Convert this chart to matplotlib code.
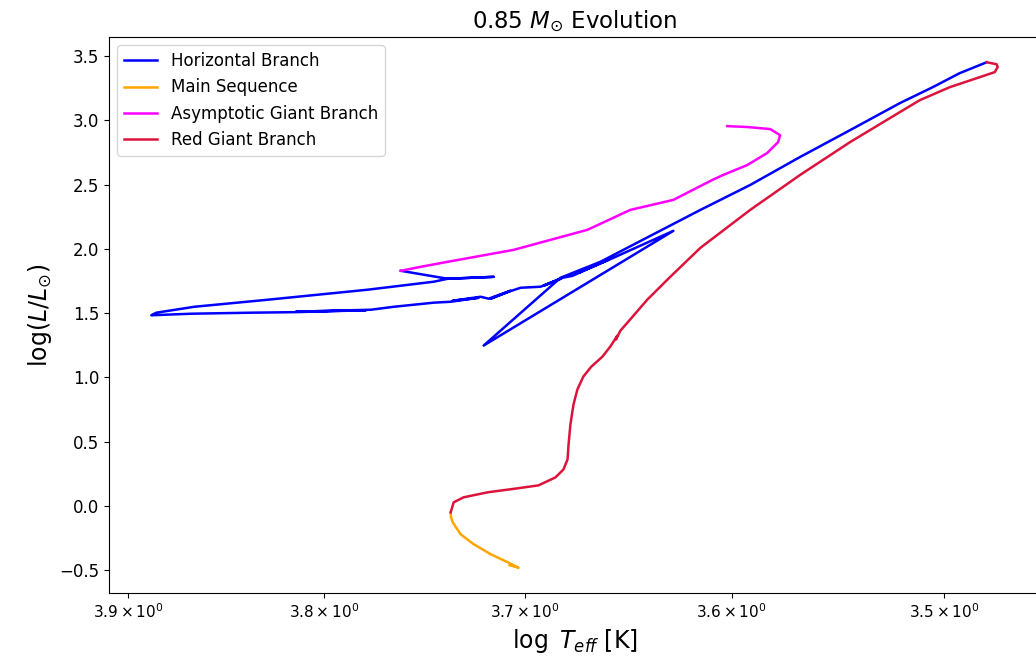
import numpy as np
import matplotlib
matplotlib.use('Agg')
import matplotlib.pyplot as plt

# 0.85 Msun track (x = log Teff, y = log L/Lsun)
ms_teff = [3.7077, 3.7033, 3.7087, 3.7170, 3.7254, 3.7319, 3.7358, 3.7366, 3.7368]
ms_lum = [-0.461, -0.481, -0.438, -0.376, -0.298, -0.220, -0.127, -0.088, -0.050]

rgb_teff = [3.7368, 3.7353, 3.7304, 3.7185, 3.7038, 3.6935, 3.6852, 3.6813, 3.6793,
            3.6788, 3.6779, 3.6764, 3.6745, 3.6716, 3.6677, 3.6623, 3.6585, 3.6551,
            3.6558, 3.6536, 3.6502, 3.6406, 3.6295, 3.6150, 3.5912, 3.5675, 3.5439,
            3.5206, 3.5113, 3.4974, 3.4835, 3.4766, 3.4752, 3.4757, 3.4803]
rgb_lum = [-0.050, 0.028, 0.067, 0.106, 0.137, 0.160, 0.222, 0.284, 0.362,
           0.479, 0.634, 0.789, 0.906, 1.007, 1.084, 1.162, 1.240, 1.325,
           1.294, 1.364, 1.426, 1.605, 1.783, 2.009, 2.304, 2.576, 2.832,
           3.065, 3.158, 3.259, 3.337, 3.376, 3.415, 3.438, 3.453]

hb_teff = [3.4803, 3.4928, 3.5053, 3.5206, 3.5439, 3.5675, 3.5912, 3.6150, 3.6391,
           3.6633, 3.6827, 3.7205, 3.6280, 3.6570, 3.6740, 3.6594, 3.6769, 3.6817,
           3.6910, 3.6827, 3.6925, 3.7023, 3.7082, 3.7170, 3.7072, 3.7180, 3.7220,
           3.7358, 3.7230, 3.7368, 3.7452, 3.7651, 3.7766, 3.8143, 3.7791, 3.8153,
           3.8371, 3.8676, 3.8882, 3.8856, 3.8661, 3.8285, 3.7781, 3.7452, 3.7383,
           3.7156, 3.7383, 3.7616]
hb_lum = [3.453, 3.368, 3.259, 3.135, 2.925, 2.716, 2.498, 2.304, 2.102,
          1.900, 1.776, 1.248, 2.141, 1.931, 1.815, 1.916, 1.791, 1.776,
          1.714, 1.768, 1.706, 1.698, 1.667, 1.613, 1.675, 1.613, 1.628,
          1.597, 1.620, 1.589, 1.582, 1.550, 1.527, 1.512, 1.523, 1.508,
          1.504, 1.496, 1.484, 1.504, 1.550, 1.605, 1.683, 1.745, 1.768,
          1.783, 1.768, 1.830]

agb_teff = [3.7616, 3.7517, 3.7383, 3.7057, 3.6696, 3.6488, 3.6280, 3.6093, 3.6041,
            3.5926, 3.5831, 3.5779, 3.5770, 3.5817, 3.5926, 3.6022]
agb_lum = [1.830, 1.861, 1.900, 1.993, 2.149, 2.304, 2.382, 2.537, 2.576,
           2.653, 2.747, 2.832, 2.886, 2.933, 2.949, 2.956]

xticks = [3.5, 3.6, 3.7, 3.8, 3.9]

fig = plt.figure(figsize=(10.36, 6.65), dpi=100)
ax = fig.add_axes([109/1036, 72/665, 931/1036, 556/665])

ax.plot(hb_teff, hb_lum, color='blue', lw=1.8, label='Horizontal Branch')
ax.plot(ms_teff, ms_lum, color='orange', lw=1.8, label='Main Sequence')
ax.plot(agb_teff, agb_lum, color='magenta', lw=1.8, label='Asymptotic Giant Branch')
ax.plot(rgb_teff, rgb_lum, color='crimson', lw=1.8, label='Red Giant Branch')

ax.set_xscale('log')
ax.set_xticks(xticks)
ax.invert_xaxis()
ax.tick_params(axis='y', labelsize=12)
ax.tick_params(axis='x', labelsize=11)

ax.set_xlabel(r'$\log\ T_{eff}$ [K]', fontsize=17)
ax.set_ylabel(r'$\log(L/L_{\odot})$', fontsize=17)
ax.set_title(r'0.85 $M_{\odot}$ Evolution', fontsize=16.5)
ax.legend(loc='upper left', fontsize=12)

fig.savefig('out.png', dpi=100)
